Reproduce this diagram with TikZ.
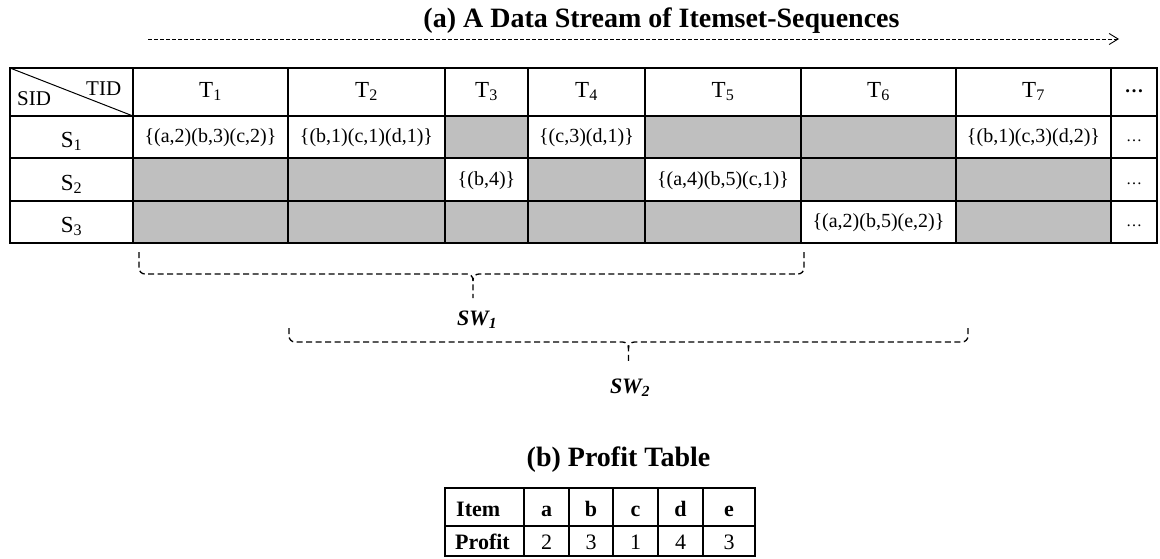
\documentclass[tikz,border=0pt]{standalone}
\usepackage{fontspec}
\setmainfont{Liberation Serif}
\usetikzlibrary{arrows.meta}
\definecolor{cellgray}{RGB}{191,191,191}

\begin{document}
\begin{tikzpicture}[x=1pt,y=-1pt,
  grid/.style={line width=2pt,line cap=rect},
  thinline/.style={line width=1pt},
  titletxt/.style={anchor=base,inner sep=0pt,font=\fontsize{28}{32}\selectfont\bfseries},
  headtxt/.style={anchor=base,inner sep=0pt,font=\fontsize{23}{27}\selectfont},
  cornertxt/.style={anchor=base west,inner sep=0pt,font=\fontsize{21}{25}\selectfont},
  celltxt/.style={anchor=base,inner sep=0pt,font=\fontsize{20}{24}\selectfont},
  moretxt/.style={anchor=base,inner sep=0pt,font=\fontsize{16}{20}\selectfont},
  swtxt/.style={anchor=base,inner sep=0pt,font=\fontsize{22}{26}\selectfont\bfseries\itshape},
  brace/.style={line width=1.3pt,dash pattern=on 6pt off 3.5pt,rounded corners=6pt},
  profhead/.style={anchor=base,inner sep=0pt,font=\fontsize{22}{26}\selectfont\bfseries},
  profval/.style={anchor=base,inner sep=0pt,font=\fontsize{22}{26}\selectfont},
]
\useasboundingbox (0,0) rectangle (1160,558);

% ---- stream title and time arrow ----
\node[titletxt] (titlea) at (661.5,27) {(a) A Data Stream of Itemset-Sequences};
\coordinate (streamstart) at (148,39);
\coordinate (streamend) at (1119,39);
\draw[line width=0.9pt,dash pattern=on 4pt off 2pt,
      -{Straight Barb[length=9pt,width=11pt,line width=0.9pt]}] (streamstart) -- (streamend);

% ---- empty (grey) cells of the stream table ----
\fill[cellgray] (445,116) rectangle (528,158);
\fill[cellgray] (645,116) rectangle (956,158);
\fill[cellgray] (133,158) rectangle (445,201);
\fill[cellgray] (528,158) rectangle (645,201);
\fill[cellgray] (801,158) rectangle (1111,201);
\fill[cellgray] (133,201) rectangle (801,243);
\fill[cellgray] (956,201) rectangle (1111,243);

% ---- grid of the stream table ----
\draw[grid] (10,68) rectangle (1157,243);
\foreach \yy in {116,158,201} \draw[grid] (10,\yy) -- (1157,\yy);
\foreach \xx in {133,288,445,528,645,801,956,1111} \draw[grid] (\xx,68) -- (\xx,243);
\draw[thinline] (10,68) -- (133,116);

% ---- header row ----
\node[cornertxt] (sid) at (17,105) {SID};
\node[cornertxt] (tid) at (86,95) {TID};
\node[headtxt] (t1) at (210.5,97) {T\textsubscript{1}};
\node[headtxt] (t2) at (366.5,97) {T\textsubscript{2}};
\node[headtxt] (t3) at (486.5,97) {T\textsubscript{3}};
\node[headtxt] (t4) at (586.5,97) {T\textsubscript{4}};
\node[headtxt] (t5) at (723,97) {T\textsubscript{5}};
\node[headtxt] (t6) at (878.5,97) {T\textsubscript{6}};
\node[headtxt] (t7) at (1033.5,97) {T\textsubscript{7}};
\node[anchor=base,inner sep=0pt,font=\fontsize{19}{23}\selectfont\bfseries] (tmore) at (1134,92) {…};

% ---- sequence identifiers ----
\node[headtxt] (s1) at (71.5,147) {S\textsubscript{1}};
\node[headtxt] (s2) at (71.5,190) {S\textsubscript{2}};
\node[headtxt] (s3) at (71.5,232) {S\textsubscript{3}};

% ---- itemsets ----
\node[celltxt] (s1t1) at (210.5,142.5) {\{(a,2)(b,3)(c,2)\}};
\node[celltxt] (s1t2) at (366.5,142.5) {\{(b,1)(c,1)(d,1)\}};
\node[celltxt] (s1t4) at (586.5,142.5) {\{(c,3)(d,1)\}};
\node[celltxt] (s1t7) at (1033.5,142.5) {\{(b,1)(c,3)(d,2)\}};
\node[celltxt] (s2t3) at (486.5,185) {\{(b,4)\}};
\node[celltxt] (s2t5) at (723,185) {\{(a,4)(b,5)(c,1)\}};
\node[celltxt] (s3t6) at (878.5,227.5) {\{(a,2)(b,5)(e,2)\}};
\node[moretxt] (s1more) at (1134,141) {…};
\node[moretxt] (s2more) at (1134,184) {…};
\node[moretxt] (s3more) at (1134,226) {…};

% ---- sliding window SW1 ----
\coordinate (w1left) at (139,252);
\coordinate (w1right) at (804,252);
\coordinate (w1tip) at (473,298);
\draw[brace] (w1left) -- (139,274) -- (473,274) -- (w1tip);
\draw[brace] (w1right) -- (804,274) -- (473,274) -- (473,281);
\node[swtxt] (sw1) at (477,325) {SW\textsubscript{1}};

% ---- sliding window SW2 ----
\coordinate (w2left) at (289,328);
\coordinate (w2right) at (968,328);
\coordinate (w2tip) at (628.5,363);
\draw[brace] (w2left) -- (289,342) -- (628.5,342) -- (w2tip);
\draw[brace] (w2right) -- (968,342) -- (628.5,342) -- (628.5,349);
\node[swtxt] (sw2) at (630,393) {SW\textsubscript{2}};

% ---- profit table ----
\node[titletxt] (titleb) at (618.5,466) {(b) Profit Table};
\draw[grid] (445,488) rectangle (755,556);
\draw[grid] (445,526) -- (755,526);
\foreach \xx in {524,569,613,658,703} \draw[grid] (\xx,488) -- (\xx,556);
\node[profhead,anchor=base west] (item) at (456,516) {Item};
\node[profhead,anchor=base west] (profit) at (455,549) {Profit};
\node[profhead] (ia) at (546.5,516) {a};
\node[profhead] (ib) at (591,516) {b};
\node[profhead] (ic) at (635.5,516) {c};
\node[profhead] (id) at (680.5,516) {d};
\node[profhead] (ie) at (729,516) {e};
\node[profval] (pa) at (546.5,549) {2};
\node[profval] (pb) at (591,549) {3};
\node[profval] (pc) at (635.5,549) {1};
\node[profval] (pd) at (680.5,549) {4};
\node[profval] (pe) at (729,549) {3};
\end{tikzpicture}
\end{document}
